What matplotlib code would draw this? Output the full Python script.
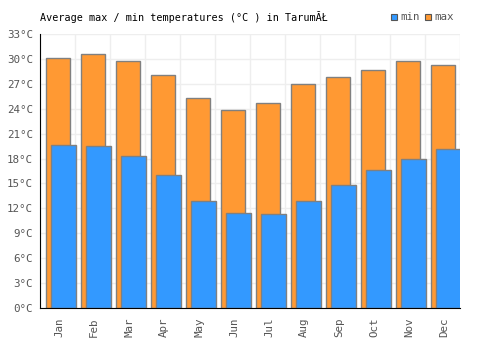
import numpy as np
import matplotlib
matplotlib.use("Agg")
import matplotlib.pyplot as plt
from matplotlib.patches import Rectangle

months = ["Jan", "Feb", "Mar", "Apr", "May", "Jun",
          "Jul", "Aug", "Sep", "Oct", "Nov", "Dec"]
temp_max = [30.1, 30.6, 29.8, 28.0, 25.3, 23.9, 24.7, 27.0, 27.8, 28.7, 29.8, 29.3]
temp_min = [19.6, 19.5, 18.3, 16.0, 12.9, 11.4, 11.3, 12.9, 14.8, 16.6, 18.0, 19.1]
yticks = list(range(0, 34, 3))

plt.rcParams['font.family'] = ['DejaVu Sans Mono']
fs = 7.3

fig = plt.figure(figsize=(5, 3.5), dpi=100)
ax = fig.add_axes([0.08, 0.12, 0.84, 0.783])

x = np.arange(len(months))
orange = "#ff9933"
blue = "#3399ff"
edge = "#808080"

# max bars behind, min bars in front and shifted right
ax.bar(x + 0.01, temp_max, width=0.68, color=orange, edgecolor=edge, linewidth=1, zorder=2)
ax.bar(x + 0.17, temp_min, width=0.70, color=blue, edgecolor=edge, linewidth=1, zorder=3)

ax.set_xlim(-0.5, 11.5)
ax.set_ylim(0, 33)
ax.set_yticks(yticks)
ax.set_yticklabels([f"{t}°C" for t in yticks])
ax.set_xticks(x + 0.05)
ax.set_xticklabels(months, rotation=90)

# grid: horizontal every 3 degrees, vertical at category boundaries
for t in yticks:
    ax.axhline(t, color="#eeeeee", linewidth=1, zorder=0)
for b in np.arange(-0.5, 12, 1):
    ax.axvline(b, color="#eeeeee", linewidth=1, zorder=0)

for s in ["top", "right"]:
    ax.spines[s].set_visible(False)
ax.spines["left"].set_color("black")
ax.spines["bottom"].set_color("black")
ax.spines["left"].set_zorder(5)
ax.spines["bottom"].set_zorder(5)

ax.tick_params(axis="both", length=0, labelsize=fs + 0.5, colors="#555555", pad=5)
ax.tick_params(axis="x", pad=7)

fig.text(0.08, 0.951, "Average max / min temperatures (°C ) in TarumĂŁ",
         fontsize=fs, color="black", va="center", ha="left")

# legend
for xl, col, lab in [(0.782, blue, "min"), (0.850, orange, "max")]:
    fig.patches.append(Rectangle((xl, 0.942), 0.012, 0.017, transform=fig.transFigure,
                                 facecolor=col, edgecolor="#555555", linewidth=0.8))
    fig.text(xl + 0.018, 0.951, lab, fontsize=fs + 0.5, color="#555555", va="center", ha="left")

fig.savefig("out.png", dpi=100)
